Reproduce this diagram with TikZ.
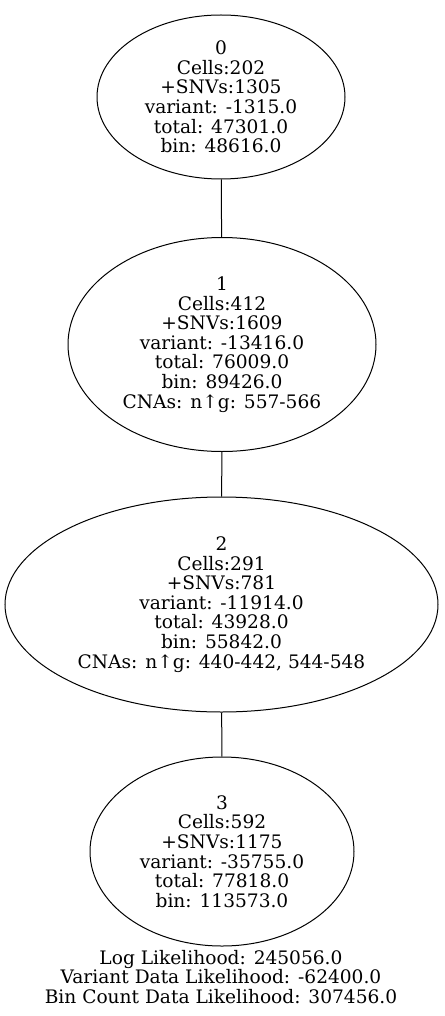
\documentclass[tikz,border=0pt]{standalone}
\usepackage{fontspec}
\setmainfont{DejaVu Serif}
\usetikzlibrary{shapes.geometric}
\begin{document}
\begin{tikzpicture}[x=1pt, y=-1pt,
  clone/.style={ellipse, draw, line width=1pt, inner sep=0pt, align=center,
    font=\fontsize{18.6}{19.6}\selectfont}]
  \useasboundingbox[fill=white] (0,0) rectangle (444,1016);
  \node[clone, minimum width=248, minimum height=164] (c0) at (221,97)
    {0\\Cells:202\\+SNVs:1305\\variant: -1315.0\\total: 47301.0\\bin: 48616.0};
  \node[clone, minimum width=308, minimum height=214] (c1) at (222,344.5)
    {1\\Cells:412\\+SNVs:1609\\variant: -13416.0\\total: 76009.0\\bin: 89426.0\\CNAs: n↑g: 557-566};
  \node[clone, minimum width=433, minimum height=215] (c2) at (221.5,604.5)
    {2\\Cells:291\\+SNVs:781\\variant: -11914.0\\total: 43928.0\\bin: 55842.0\\CNAs: n↑g: 440-442, 544-548};
  \node[clone, minimum width=264, minimum height=189] (c3) at (222,851.5)
    {3\\Cells:592\\+SNVs:1175\\variant: -35755.0\\total: 77818.0\\bin: 113573.0};
  \draw[line width=1pt] (c0) -- (c1);
  \draw[line width=1pt] (c1) -- (c2);
  \draw[line width=1pt] (c2) -- (c3);
  \node[align=center, inner sep=0pt, font=\fontsize{18.6}{19.6}\selectfont] (lik) at (221,977)
    {Log Likelihood: 245056.0\\Variant Data Likelihood: -62400.0\\Bin Count Data Likelihood: 307456.0};
\end{tikzpicture}
\end{document}
